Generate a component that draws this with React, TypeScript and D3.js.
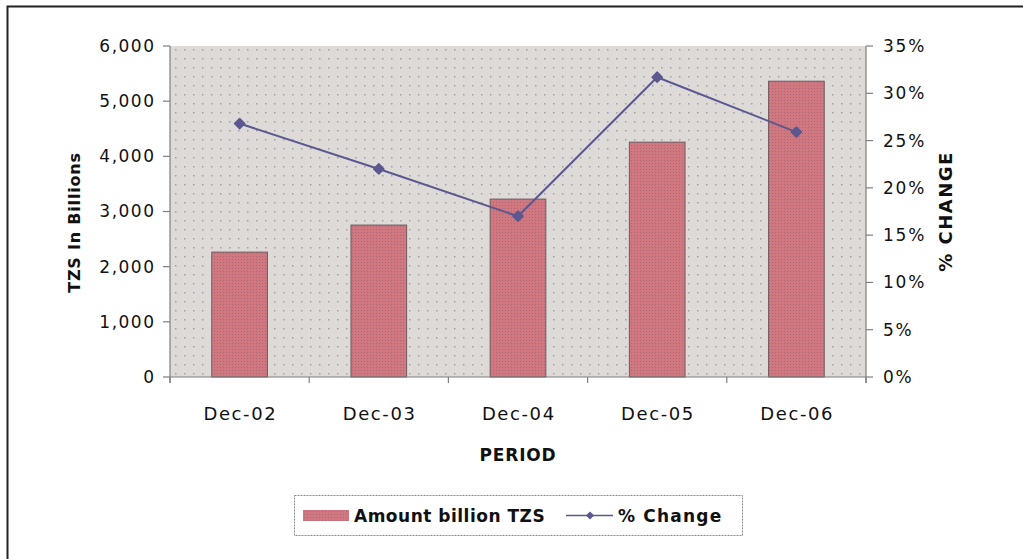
import * as d3 from "d3";

const PERIODS = ["Dec-02", "Dec-03", "Dec-04", "Dec-05", "Dec-06"];
const AMOUNT = [2264, 2754, 3225, 4257, 5362];
const PCT_CHANGE = [26.8, 22.0, 17.0, 31.7, 25.9];
const LEFT_TICKS = [0, 1000, 2000, 3000, 4000, 5000, 6000];
const RIGHT_TICKS = [0, 5, 10, 15, 20, 25, 30, 35];

const FONT = "'DejaVu Sans', sans-serif";
const LINE_COLOR = "#5b5890";

export default function App() {
  const W = 1023;
  const H = 559;
  const m = { left: 170, right: 866, top: 46, bottom: 377 };

  const x = d3
    .scaleBand<string>()
    .domain(PERIODS)
    .range([m.left, m.right])
    .paddingInner(0.6)
    .paddingOuter(0.3);

  const y = d3.scaleLinear().domain([0, 6000]).range([m.bottom, m.top]);
  const y2 = d3.scaleLinear().domain([0, 35]).range([m.bottom, m.top]);

  const cx = (p: string) => (x(p) as number) + x.bandwidth() / 2;
  const line = d3
    .line<number>()
    .x((_, i) => cx(PERIODS[i]))
    .y((d) => y2(d));

  // rounded-looking diamond marker: a square turned 45 degrees
  const marker = d3.symbol(d3.symbolSquare, 52)();
  const fmt = d3.format(",");
  const step = x.step();
  const boundaries = d3.range(PERIODS.length + 1).map((i) => m.left + i * step);

  return (
    <svg
      width={W}
      height={H}
      style={{ position: "absolute", left: 0, top: 0, background: "#fff" }}
    >
      <defs>
        <pattern id="dots" width="9" height="9" patternUnits="userSpaceOnUse">
          <rect width="9" height="9" fill="#dedad8" />
          <rect x="4" y="4" width="1.5" height="1.5" fill="#a49ea6" />
        </pattern>
        <pattern id="hatch" width="3" height="3" patternUnits="userSpaceOnUse">
          <rect width="3" height="3" fill="#d0777f" />
          <rect x="1" y="1" width="1" height="1" fill="#a86a78" />
        </pattern>
      </defs>

      {/* outer frame */}
      <path d={`M7.5,${H + 2} V6.5 H${W + 2}`} fill="none" stroke="#222" strokeWidth={2} />

      <rect
        x={m.left}
        y={m.top}
        width={m.right - m.left}
        height={m.bottom - m.top}
        fill="url(#dots)"
      />

      {PERIODS.map((p, i) => (
        <rect
          key={p}
          x={x(p)}
          y={y(AMOUNT[i])}
          width={x.bandwidth()}
          height={m.bottom - y(AMOUNT[i])}
          fill="url(#hatch)"
          stroke="#6e5c60"
          strokeWidth={1}
        />
      ))}

      {/* axes */}
      <g stroke="#7f7f7f" strokeWidth={1.2}>
        <line x1={m.left} x2={m.left} y1={m.top} y2={m.bottom + 6} />
        <line x1={m.right} x2={m.right} y1={m.top} y2={m.bottom + 6} />
        <line x1={m.left} x2={m.right} y1={m.bottom} y2={m.bottom} />
        {LEFT_TICKS.map((t) => (
          <line key={"l" + t} x1={m.left - 7} x2={m.left} y1={y(t)} y2={y(t)} />
        ))}
        {RIGHT_TICKS.map((t) => (
          <line key={"r" + t} x1={m.right} x2={m.right + 7} y1={y2(t)} y2={y2(t)} />
        ))}
        {boundaries.map((b, i) => (
          <line key={"b" + i} x1={b} x2={b} y1={m.bottom} y2={m.bottom + 6} />
        ))}
      </g>

      <g fontFamily={FONT} fontSize={17} fill="#111">
        {LEFT_TICKS.map((t) => (
          <text key={"lt" + t} x={155.5} y={y(t)} dy="0.35em" textAnchor="end" letterSpacing={1.5}>
            {fmt(t)}
          </text>
        ))}
        {RIGHT_TICKS.map((t) => (
          <text key={"rt" + t} x={883} y={y2(t)} dy="0.35em" letterSpacing={1.8}>
            {t + "%"}
          </text>
        ))}
        {PERIODS.map((p) => (
          <text
            key={"xt" + p}
            x={cx(p) + 0.8}
            y={414}
            dy="0.35em"
            textAnchor="middle"
            fontSize={18}
            letterSpacing={1.6}
          >
            {p}
          </text>
        ))}
      </g>

      <g fontFamily={FONT} fontWeight="bold" fill="#111">
        <text
          transform={`translate(74,${(m.top + m.bottom) / 2 + 11}) rotate(-90)`}
          textAnchor="middle"
          dy="0.35em"
          fontSize={16}
          letterSpacing={0.8}
        >
          TZS In Billions
        </text>
        <text
          transform={`translate(946,${(m.top + m.bottom) / 2}) rotate(-90)`}
          textAnchor="middle"
          dy="0.35em"
          fontSize={18}
          letterSpacing={1.5}
        >
          % CHANGE
        </text>
        <text x={518} y={455} textAnchor="middle" dy="0.35em" fontSize={17} letterSpacing={0.8}>
          PERIOD
        </text>
      </g>

      {/* % change line */}
      <path d={line(PCT_CHANGE) ?? ""} fill="none" stroke={LINE_COLOR} strokeWidth={2} />
      {PCT_CHANGE.map((v, i) => (
        <path
          key={"m" + i}
          d={marker ?? ""}
          transform={`translate(${cx(PERIODS[i])},${y2(v)}) rotate(45)`}
          fill={LINE_COLOR}
          stroke={LINE_COLOR}
          strokeLinejoin="round"
          strokeWidth={1.5}
        />
      ))}

      {/* legend */}
      <rect
        x={294.5}
        y={495.5}
        width={448}
        height={40}
        fill="#fff"
        stroke="#8a8a8a"
        strokeDasharray="2,1"
      />
      <rect x={303} y={510} width={46} height={11} fill="url(#hatch)" />
      <line x1={566} x2={613} y1={515.5} y2={515.5} stroke={LINE_COLOR} strokeWidth={1.5} />
      <path
        d={d3.symbol(d3.symbolSquare, 34)() ?? ""}
        transform="translate(590,515.5) rotate(45)"
        fill={LINE_COLOR}
      />
      <g fontFamily={FONT} fontWeight="bold" fontSize={17} fill="#111" letterSpacing={0.5}>
        <text x={354} y={516} dy="0.35em">
          Amount billion TZS
        </text>
        <text x={618} y={516} dy="0.35em" letterSpacing={1.2}>
          % Change
        </text>
      </g>
    </svg>
  );
}
